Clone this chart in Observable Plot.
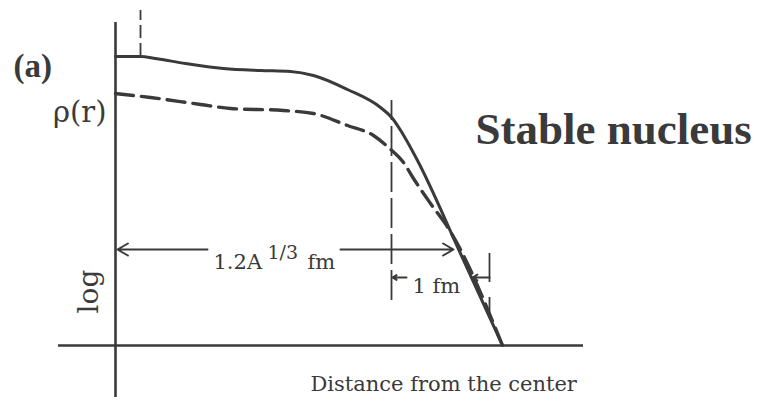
<!DOCTYPE html>
<html>
<head>
<meta charset="utf-8">
<script src="https://cdn.jsdelivr.net/npm/d3@7"></script>
<script src="https://cdn.jsdelivr.net/npm/@observablehq/plot@0.6"></script>
<style>
  html, body { margin: 0; padding: 0; background: #fff; }
  #chart svg { display: block; }
</style>
</head>
<body>
<div id="chart"></div>
<script>
// Schematic log-density profile of a stable nucleus.
// x: distance from the centre (fm, schematic); y: log ρ(r) (arbitrary units).

// Proton-like (solid) density profile
const solidR   = [0, 0.25, 0.40, 0.70, 1.08, 1.45, 1.75, 1.98, 2.32, 2.65, 2.77, 2.87, 3.02, 3.45, 3.87];
const solidLog = [2.89, 2.89, 2.87, 2.82, 2.77, 2.75, 2.74, 2.70, 2.56, 2.38, 2.27, 2.12, 1.85, 0.92, 0];

// Neutron-like (dashed) density profile
const dashedR   = [0, 0.35, 0.85, 1.15, 1.68, 1.98, 2.32, 2.58, 2.73, 2.88, 2.98, 3.15, 3.33, 3.87];
const dashedLog = [2.52, 2.48, 2.41, 2.37, 2.35, 2.32, 2.20, 2.10, 1.98, 1.83, 1.67, 1.42, 1.17, 0];

// Annotation geometry (same units)
const halfRadius = 2.76;     // 1.2 A^{1/3} fm, marked by the dashed vertical
const skinEnd = 3.74;        // end of the 1 fm surface region
const radiusArrowY = 0.96;   // height of the 1.2A^{1/3} dimension line
const skinArrowY = 0.68;     // height of the 1 fm dimension line

// Text labels
const panelLabel = "(a)";
const yLabelTop = "ρ(r)";
const yLabelSide = "log";
const xLabel = "Distance from the center";
const title = "Stable nucleus";

const solid = solidR.map((r, i) => ({r, v: solidLog[i]}));
const dashed = dashedR.map((r, i) => ({r, v: dashedLog[i]}));

const ink = "#3a3a3a";
const serif = "'DejaVu Serif', serif";
const times = "'Liberation Serif', 'Times New Roman', serif";

const chart = Plot.plot({
  width: 761,
  height: 397,
  margin: 0,
  x: {domain: [-1.15, 6.46], axis: null},
  y: {domain: [-0.52, 3.45], axis: null},
  style: {background: "#fff"},
  marks: [
    // axes
    Plot.ruleY([0], {x1: -0.57, x2: 4.68, stroke: ink, strokeWidth: 2.6}),
    Plot.ruleX([0], {y1: -0.52, y2: 3.23, stroke: ink, strokeWidth: 2.6}),

    // small dashed marker at the top-left
    Plot.ruleX([0.25], {y1: 2.89, y2: 3.35, stroke: ink, strokeWidth: 1.8, strokeDasharray: "13,5"}),

    // dashed vertical at the half-density radius
    Plot.ruleX([halfRadius], {y1: 0.45, y2: 2.45, stroke: ink, strokeWidth: 1.8, strokeDasharray: "30,6"}),

    // vertical bar at the end of the surface region
    Plot.ruleX([skinEnd], {y1: 0.63, y2: 0.92, stroke: ink, strokeWidth: 1.8}),
    Plot.ruleX([skinEnd], {y1: 0.31, y2: 0.48, stroke: ink, strokeWidth: 1.8}),

    // density profiles
    Plot.line(dashed, {x: "r", y: "v", curve: "monotone-x", stroke: ink, strokeWidth: 3.4, strokeDasharray: "18,8"}),
    Plot.line(solid, {x: "r", y: "v", curve: "monotone-x", stroke: ink, strokeWidth: 3}),

    // 1.2A^{1/3} fm dimension arrows
    Plot.arrow([{x1: 0.92, x2: 0.02}, {x1: 2.25, x2: 3.38}], {
      x1: "x1", x2: "x2", y1: radiusArrowY, y2: radiusArrowY,
      stroke: ink, strokeWidth: 2, headLength: 9
    }),
    // 1 fm dimension arrows
    Plot.arrow([{x1: 2.91, x2: halfRadius + 0.01}, {x1: skinEnd, x2: 3.57}], {
      x1: "x1", x2: "x2", y1: skinArrowY, y2: skinArrowY,
      stroke: ink, strokeWidth: 2, headLength: 8
    }),

    // labels
    Plot.text([panelLabel], {x: -1.02, y: 2.79, text: d => d, textAnchor: "start", lineAnchor: "middle",
      fontFamily: times, fontWeight: "bold", fontSize: 33, fill: ink}),
    Plot.text([yLabelTop], {x: -0.09, y: 2.33, text: d => d, textAnchor: "end", lineAnchor: "middle",
      fontFamily: serif, fontSize: 29, fill: ink}),
    Plot.text([yLabelSide], {x: -0.26, y: 0.54, text: d => d, rotate: -90, textAnchor: "middle", lineAnchor: "middle",
      fontFamily: serif, fontSize: 28, fill: ink}),
    Plot.text([title], {x: 3.60, y: 2.02, text: d => d, textAnchor: "start", lineAnchor: "bottom",
      fontFamily: times, fontWeight: "bold", fontSize: 45, fill: ink}),
    Plot.text(["1.2A"], {x: 0.98, y: 0.77, text: d => d, textAnchor: "start", lineAnchor: "bottom",
      fontFamily: serif, fontSize: 21, fill: ink}),
    Plot.text(["1/3"], {x: 1.52, y: 0.87, text: d => d, textAnchor: "start", lineAnchor: "bottom",
      fontFamily: serif, fontSize: 19, fill: ink}),
    Plot.text(["fm"], {x: 1.92, y: 0.77, text: d => d, textAnchor: "start", lineAnchor: "bottom",
      fontFamily: serif, fontSize: 21, fill: ink}),
    Plot.text(["1 fm"], {x: 2.97, y: 0.53, text: d => d, textAnchor: "start", lineAnchor: "bottom",
      fontFamily: serif, fontSize: 21, fill: ink}),
    Plot.text([xLabel], {x: 1.95, y: -0.45, text: d => d, textAnchor: "start", lineAnchor: "bottom",
      fontFamily: serif, fontSize: 21, fill: ink})
  ]
});

document.getElementById("chart").append(chart);
</script>
</body>
</html>
